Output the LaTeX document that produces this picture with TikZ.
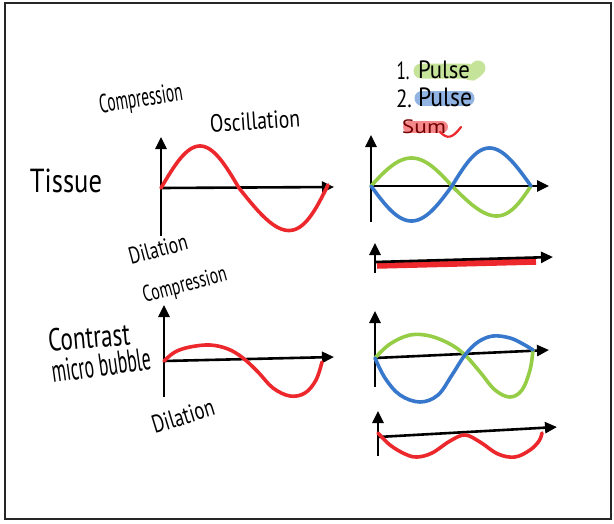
\documentclass[tikz,border=0pt]{standalone}
\usepackage{fontspec}
\setmainfont{PT Sans}
\usepackage{graphicx}
\usetikzlibrary{arrows.meta}
\definecolor{pred}{RGB}{236,40,45}
\definecolor{pgreen}{RGB}{150,205,70}
\definecolor{pblue}{RGB}{55,120,205}
\newcommand{\hwtext}[3]{\resizebox*{#1pt}{#2pt}{#3}}
\begin{document}
\begin{tikzpicture}[x=1pt,y=-1pt,
  axis/.style={line width=2.6pt, black, -{Triangle[length=12pt,width=11pt]}},
  wave/.style={line width=3.6pt, line cap=round, line join=round},
  marker/.style={line width=15pt, line cap=round, opacity=0.55},
  lbl/.style={inner sep=0pt, outer sep=0pt}]
\useasboundingbox (0,0) rectangle (614,523);
\fill[white] (0,0) rectangle (614,523);
\draw[line width=1.8pt, black!85] (5,3) rectangle (611,519);

% ---------- Tissue chart ----------
\coordinate (t-o) at (161,188);
\coordinate (t-y) at (161,137);
\coordinate (t-yb) at (161,236);
\coordinate (t-x) at (334,187);
\draw[axis] (t-yb) -- (t-y);
\draw[axis] (t-o) -- (t-x);
\draw[wave, pred]
  plot[domain=0:180, samples=40, variable=\t] ({161+78*\t/180}, {188-42*sin(\t)})
  plot[domain=0:180, samples=40, variable=\t] ({239+89*\t/180+6*sin(\t)}, {188+44*sin(\t)-3*\t/180});

% ---------- Pulses (tissue) ----------
\coordinate (p-o) at (371,186);
\coordinate (p-y) at (371,135);
\coordinate (p-yb) at (371,222);
\coordinate (p-x) at (549,186);
\draw[axis] (p-yb) -- (p-y);
\draw[axis] (p-o) -- (p-x);
\draw[wave, pgreen]
  plot[domain=0:180, samples=40, variable=\t] ({371+81*\t/180}, {186-28*sin(\t)})
  plot[domain=0:180, samples=40, variable=\t] ({452+79*\t/180+5*sin(\t)}, {186+30*sin(\t)});
\draw[wave, pblue]
  plot[domain=0:180, samples=40, variable=\t] ({371+81*\t/180}, {186+35*sin(\t)})
  plot[domain=0:180, samples=40, variable=\t] ({452+79*\t/180-2*sin(\t)}, {186-38*sin(\t)});

% ---------- Sum (tissue) ----------
\coordinate (s1-o) at (375,262);
\coordinate (s1-y) at (375,243);
\coordinate (s1-yb) at (375,273);
\coordinate (s1-x) at (553,257);
\coordinate (s1-r1) at (377,265.5);
\coordinate (s1-r2) at (536,261.5);
\draw[pred, line width=6.5pt] (s1-r1) -- (s1-r2);
\draw[axis] (s1-yb) -- (s1-y);
\draw[axis] (s1-o) -- (s1-x);

% ---------- Microbubble chart ----------
\coordinate (m-o) at (164,361);
\coordinate (m-y) at (164,305);
\coordinate (m-yb) at (164,397);
\coordinate (m-x) at (334,357);
\draw[axis] (m-yb) -- (m-y);
\draw[axis] (m-o) -- (m-x);
\draw[wave, pred] plot[smooth, tension=0.6] coordinates {(164,361) (175,352) (190,347) (210,345) (228,349) (243,358) (258,372) (273,388) (290,396) (305,393) (316,380) (322,362)};

% ---------- Pulses (microbubble) ----------
\coordinate (q-o) at (375,358);
\coordinate (q-y) at (375,311);
\coordinate (q-yb) at (375,387);
\coordinate (q-x) at (549,350);
\draw[axis] (q-yb) -- (q-y);
\draw[axis] (q-o) -- (q-x);
\draw[wave, pgreen] plot[smooth, tension=0.6] coordinates {(375,358) (390,344) (410,335) (430,336) (450,344) (465,355) (480,372) (495,390) (510,397) (522,390) (530,370) (533,350)};
\draw[wave, pblue] plot[smooth, tension=0.6] coordinates {(375,358) (385,378) (400,395) (420,402) (438,395) (452,375) (465,355) (478,342) (493,336) (510,338) (523,344) (533,350)};

% ---------- Sum (microbubble) ----------
\coordinate (s2-o) at (378,437);
\coordinate (s2-y) at (378,411);
\coordinate (s2-yb) at (378,456);
\coordinate (s2-x) at (557,427);
\draw[axis] (s2-yb) -- (s2-y);
\draw[axis] (s2-o) -- (s2-x);
\draw[wave, pred] plot[smooth, tension=0.6] coordinates {(378,433) (390,445) (405,454) (417,457) (432,453) (450,441) (465,435) (480,442) (498,454) (515,457) (530,450) (539,441) (542,433)};

% ---------- Labels ----------
\node[lbl, rotate=9] (comp1) at (141,100) {\hwtext{84}{24}{Compression}};
\node[lbl, rotate=4] (osc) at (255,121) {\hwtext{90}{18}{Oscillation}};
\node[lbl] (tissue) at (66,181) {\hwtext{72}{24}{Tissue}};
\node[lbl, rotate=15] (dil1) at (158,249) {\hwtext{60}{17}{Dilation}};
\node[lbl, rotate=15] (comp2) at (185,286) {\hwtext{86}{21}{Compression}};
\node[lbl, rotate=5] (contrast) at (89,337) {\hwtext{82}{23}{Contrast}};
\node[lbl, rotate=8] (micro) at (101,365) {\hwtext{100}{23}{micro bubble}};
\node[lbl, rotate=17] (dil2) at (183,416) {\hwtext{64}{18}{Dilation}};

% ---------- Legend ----------
\draw[marker, pgreen] (421,71) -- (467,71) .. controls (472,74) .. (478,68);
\draw[marker, pblue] (422,98) -- (467,98);
\draw[marker, pred, line width=12pt] (409,127) -- (442,127);
\draw[pred, line width=2.2pt, line cap=round] (440,132) .. controls (447,139) and (452,139) .. (461,127);
\node[lbl] (n1) at (403,71) {\hwtext{13}{18}{1.}};
\node[lbl] (pulse1) at (444,70) {\hwtext{52}{18}{Pulse}};
\node[lbl] (n2) at (404,99) {\hwtext{16}{18}{2.}};
\node[lbl] (pulse2) at (445,97) {\hwtext{54}{19}{Pulse}};
\node[lbl, text=black!55!red] (sum) at (424,127) {\hwtext{44}{14}{Sum}};
\end{tikzpicture}
\end{document}
